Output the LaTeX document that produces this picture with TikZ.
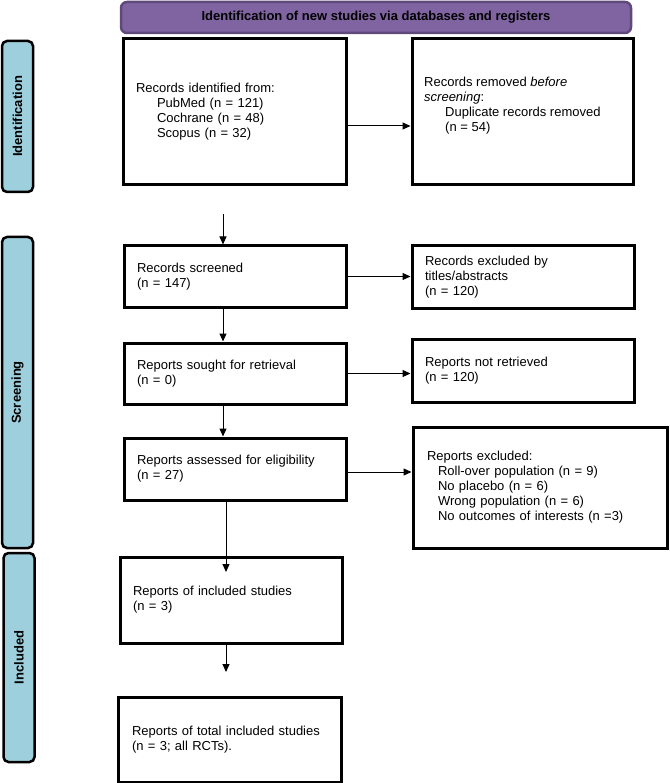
\documentclass[tikz,border=0pt]{standalone}
\usepackage{fontspec}
\setmainfont{Liberation Sans}
\usetikzlibrary{arrows.meta}
\definecolor{bannerfill}{HTML}{8064A2}
\definecolor{bannerdraw}{HTML}{5F497A}
\definecolor{sidefill}{HTML}{9DCFDD}
\tikzset{
  box/.style={draw, line width=3pt, rectangle, inner xsep=13pt, inner ysep=0pt, align=left, anchor=center},
  side/.style={draw, fill=sidefill, line width=2.5pt, rounded corners=5pt, rotate=90, minimum height=31pt, inner sep=0pt, font=\fontsize{13}{15}\selectfont\bfseries},
  arr/.style={line width=1pt, -{Triangle[length=8pt,width=7pt]}},
}
\newcommand{\ind}[1]{\hspace*{#1}}
\begin{document}
\begin{tikzpicture}[x=1pt,y=-1pt, font=\fontsize{13}{15}\selectfont]
\useasboundingbox (0,0) rectangle (669,783);

% banner
\node[draw=bannerdraw, fill=bannerfill, line width=2.5pt, rounded corners=6pt, minimum width=510pt, minimum height=31pt, inner sep=0pt, font=\fontsize{13}{15}\selectfont\bfseries] (ban) at (376,17.5) {Identification of new studies via databases and registers};

% side labels
\node[side, minimum width=151pt] (sid) at (17.5,116.5) {Identification};
\node[side, minimum width=311pt] (sscr) at (17.5,392.5) {Screening};
\node[side, minimum width=209pt] (sinc) at (19,657.5) {Included};

% boxes
\node[box, minimum width=223pt, minimum height=146pt, text width=197pt] (idf) at (234.5,112)
  {Records identified from:\\ \ind{21pt}PubMed (n = 121)\\ \ind{21pt}Cochrane (n = 48)\\ \ind{21pt}Scopus (n = 32)};
\node[box, minimum width=221pt, minimum height=146pt] (removed) at (522.5,112) {};
\node[anchor=west, align=left, inner sep=0pt] (removedtxt) at (424,106)
  {Records removed \textit{before}\\ \textit{screening}:\\ \ind{21pt}Duplicate records removed\\ \ind{21pt}(n = 54)};

\node[box, minimum width=222pt, minimum height=61pt, text width=196pt] (screened) at (235,276.5)
  {Records screened\\ (n = 147)};
\node[box, minimum width=222pt, minimum height=62pt, text width=196pt] (excluded) at (523,277)
  {Records excluded by\\ titles/abstracts\\ (n = 120)};

\node[box, minimum width=222pt, minimum height=61pt, text width=196pt] (sought) at (235,373.5)
  {Reports sought for retrieval\\ (n = 0)};
\node[box, minimum width=222pt, minimum height=63pt, text width=196pt] (notret) at (523,370.5)
  {Reports not retrieved\\ (n = 120)};

\node[box, minimum width=222pt, minimum height=62pt, text width=196pt] (assessed) at (235,469)
  {Reports assessed for eligibility\\ (n = 27)};
\node[box, minimum width=254pt, minimum height=121pt, text width=226pt, inner xsep=14pt] (excl2) at (540,487.5)
  {Reports excluded:\\ \ind{11pt}Roll-over population (n = 9)\\ \ind{11pt}No placebo (n = 6)\\ \ind{11pt}Wrong population (n = 6)\\ \ind{11pt}No outcomes of interests (n =3)};

\node[box, minimum width=222pt, minimum height=86pt, text width=196pt] (incl) at (231,600)
  {Reports of included studies\\ (n = 3)};
\node[box, minimum width=223pt, minimum height=85pt, text width=195pt, inner xsep=14pt] (total) at (229.5,739.5)
  {Reports of total included studies\\ (n = 3; all RCTs).};

% connectors
\coordinate (c1) at (223,214);
\coordinate (t8) at (226,572);
\coordinate (t9) at (226,672);
\draw[arr] ([yshift=-14pt]idf.east) -- ([yshift=-14pt]idf.east -| removed.west);
\draw[arr] (c1) -- (c1 |- screened.north);
\draw[arr] (screened.east) -- (screened.east -| excluded.west);
\draw[arr] (c1 |- screened.south) -- (c1 |- sought.north);
\draw[arr] (sought.east) -- (sought.east -| notret.west);
\draw[arr] (c1 |- sought.south) -- (c1 |- assessed.north);
\draw[arr] ([yshift=-3pt]assessed.east) -- ([yshift=-3pt]assessed.east -| excl2.west);
\draw[arr] (t8 |- assessed.south) -- (t8);
\draw[arr] (t9 |- incl.south) -- (t9);
\end{tikzpicture}
\end{document}
